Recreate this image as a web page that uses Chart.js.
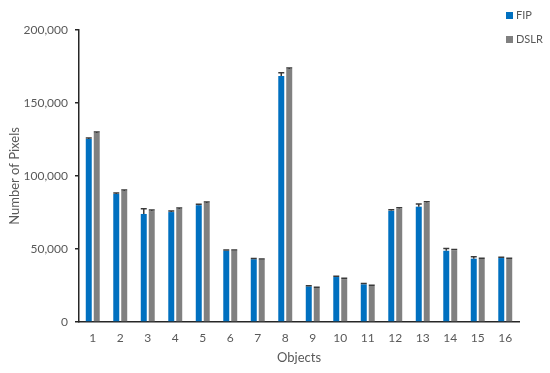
<!DOCTYPE html>
<html>
<head>
<meta charset="utf-8">
<script src="https://cdn.jsdelivr.net/npm/chart.js@4.4.0/dist/chart.umd.min.js"></script>
<style>
  body { margin: 0; background: #fff; }
  #wrap { position: relative; width: 550px; height: 373px; }
  #legend { position: absolute; left: 506px; top: 7px; font-family: Lato, sans-serif; font-size: 11px; color: #595959; }
  #legend div { height: 24px; line-height: 16px; white-space: nowrap; }
  #legend span { display: inline-block; width: 7px; height: 7px; margin-right: 3px; vertical-align: 0px; }
</style>
</head>
<body>
<div id="wrap">
  <canvas id="grafico" width="550" height="373"></canvas>
  <div id="legend"></div>
</div>
<script>
const objetos = ['1', '2', '3', '4', '5', '6', '7', '8', '9', '10', '11', '12', '13', '14', '15', '16'];
const fip = [125300, 87700, 74000, 75300, 80000, 48800, 43000, 168500, 24400, 30800, 25800, 76200, 79000, 48800, 43400, 43800];
const fipErr = [700, 700, 3500, 700, 700, 500, 500, 2200, 500, 600, 500, 700, 1800, 1600, 1300, 600];
const dslr = [129500, 89700, 76000, 77400, 81500, 48800, 42700, 173300, 23300, 29400, 24700, 77600, 81700, 49100, 43200, 43200];
const dslrErr = [700, 700, 700, 700, 700, 500, 500, 700, 500, 600, 500, 700, 700, 500, 500, 500];
const yTicks = [0, 50000, 100000, 150000, 200000];

const fonte = 'Lato, sans-serif';
const cinza = '#595959';

// barras de erro (so para cima), desenhadas pelas escalas do grafico
const barrasErro = {
  id: 'barrasErro',
  afterDatasetsDraw(chart) {
    const ctx = chart.ctx;
    const y = chart.scales.y;
    const erros = [fipErr, dslrErr];
    chart.data.datasets.forEach((ds, i) => {
      const meta = chart.getDatasetMeta(i);
      meta.data.forEach((bar, j) => {
        const v = ds.data[j];
        const top = y.getPixelForValue(v + erros[i][j]);
        const base = y.getPixelForValue(v);
        const half = bar.width / 2;
        ctx.save();
        ctx.strokeStyle = '#3a3a3a';
        ctx.lineWidth = 1.5;
        ctx.beginPath();
        ctx.moveTo(bar.x, top);
        ctx.lineTo(bar.x, base);
        ctx.moveTo(bar.x - half, top);
        ctx.lineTo(bar.x + half, top);
        ctx.stroke();
        ctx.restore();
      });
    });
  }
};

const ctx = document.getElementById('grafico').getContext('2d');
const grafico = new Chart(ctx, {
  type: 'bar',
  data: {
    labels: objetos,
    datasets: [
      { label: 'FIP', data: fip, backgroundColor: '#0070C0', categoryPercentage: 0.58, barPercentage: 0.75 },
      { label: 'DSLR', data: dslr, backgroundColor: '#808080', categoryPercentage: 0.58, barPercentage: 0.75 }
    ]
  },
  options: {
    responsive: false,
    animation: false,
    layout: { padding: { left: 0, right: 31, top: 30, bottom: 0 } },
    plugins: {
      legend: { display: false },
      tooltip: { enabled: false }
    },
    scales: {
      x: {
        grid: { display: false, drawTicks: false },
        border: { display: true, color: '#262626', width: 1.5 },
        ticks: { color: cinza, font: { family: fonte, size: 12 }, padding: 9 },
        title: { display: true, text: 'Objects', color: cinza, font: { family: fonte, size: 13 }, padding: { top: 0, bottom: 7 } },
        afterFit(scale) { scale.height = 51; }
      },
      y: {
        min: 0,
        max: 200000,
        afterBuildTicks(scale) { scale.ticks = yTicks.map(v => ({ value: v })); },
        grid: { drawOnChartArea: false, drawTicks: true, tickLength: 4, color: '#262626', lineWidth: 1.5 },
        border: { display: true, color: '#262626', width: 1.5 },
        ticks: {
          color: cinza,
          font: { family: fonte, size: 12 },
          padding: 7,
          callback: v => v.toLocaleString('en-US')
        },
        title: { display: true, text: 'Number of Pixels', color: cinza, font: { family: fonte, size: 13 }, padding: { top: 7, bottom: 0 } },
        afterFit(scale) { scale.width = 79; }
      }
    }
  },
  plugins: [barrasErro]
});

// legenda vertical no canto superior direito
document.getElementById('legend').innerHTML = grafico.data.datasets
  .map(ds => '<div><span style="background:' + ds.backgroundColor + '"></span>' + ds.label + '</div>')
  .join('');
</script>
</body>
</html>
